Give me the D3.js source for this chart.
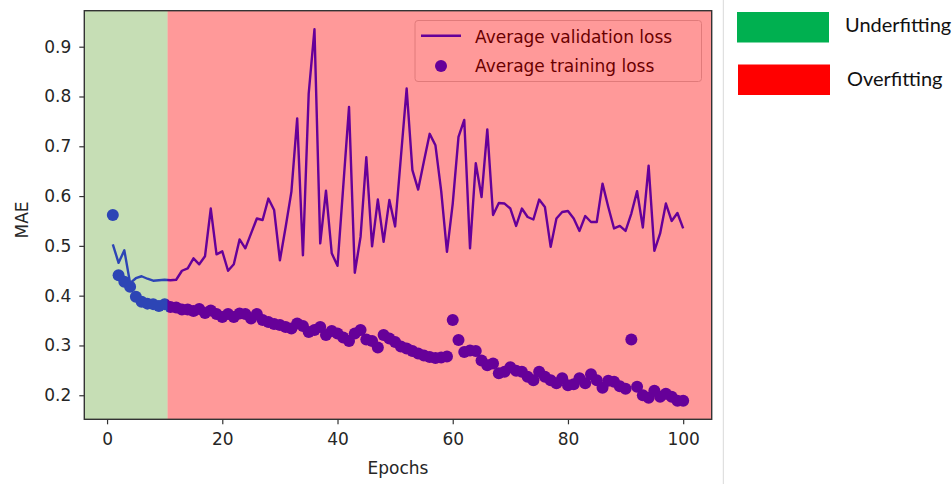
<!DOCTYPE html>
<head>
    <title>MAE per epoch</title>
    <script src="https://cdnjs.cloudflare.com/ajax/libs/d3/7.8.5/d3.min.js"></script>
</head>
<style>
body {
  margin: 0;
  background: #fff;
  font-family: "DejaVu Sans", sans-serif;
}
</style>
<body>
    <svg id="chart"></svg>
</body>

<script>

    // Data
    var valLoss = [
        0.503, 0.466, 0.491, 0.425, 0.435, 0.439, 0.434, 0.430, 0.431, 0.432,
        0.431, 0.432, 0.450, 0.455, 0.475, 0.463, 0.479, 0.575, 0.483, 0.489,
        0.450, 0.463, 0.513, 0.495, 0.525, 0.555, 0.552, 0.595, 0.572, 0.471,
        0.538, 0.609, 0.756, 0.481, 0.806, 0.935, 0.505, 0.611, 0.485, 0.460,
        0.620, 0.779, 0.446, 0.518, 0.678, 0.499, 0.593, 0.508, 0.592, 0.539,
        0.678, 0.816, 0.652, 0.613, 0.670, 0.725, 0.702, 0.610, 0.488, 0.585,
        0.719, 0.753, 0.495, 0.666, 0.598, 0.734, 0.562, 0.586, 0.585, 0.575,
        0.540, 0.575, 0.558, 0.553, 0.593, 0.578, 0.498, 0.555, 0.568, 0.570,
        0.555, 0.530, 0.560, 0.548, 0.548, 0.625, 0.578, 0.535, 0.540, 0.530,
        0.565, 0.610, 0.537, 0.661, 0.490, 0.525, 0.585, 0.550, 0.566, 0.535
    ];
    var trainLoss = [
        0.562, 0.441, 0.428, 0.418, 0.398, 0.388, 0.384, 0.383, 0.379, 0.383,
        0.377, 0.376, 0.372, 0.372, 0.369, 0.373, 0.365, 0.370, 0.363, 0.357,
        0.363, 0.357, 0.364, 0.363, 0.354, 0.363, 0.351, 0.347, 0.343, 0.341,
        0.337, 0.334, 0.344, 0.339, 0.327, 0.331, 0.337, 0.321, 0.329, 0.324,
        0.316, 0.309, 0.324, 0.331, 0.312, 0.309, 0.296, 0.321, 0.314, 0.307,
        0.298, 0.294, 0.289, 0.284, 0.280, 0.277, 0.275, 0.276, 0.278, 0.351,
        0.311, 0.287, 0.290, 0.289, 0.270, 0.260, 0.264, 0.244, 0.247, 0.256,
        0.249, 0.247, 0.237, 0.230, 0.247, 0.237, 0.230, 0.224, 0.234, 0.220,
        0.222, 0.234, 0.224, 0.242, 0.230, 0.215, 0.229, 0.227, 0.218, 0.213,
        0.312, 0.217, 0.200, 0.195, 0.209, 0.197, 0.203, 0.197, 0.189, 0.189
    ];
    var xTicks = [0, 20, 40, 60, 80, 100];
    var yTicks = [0.2, 0.3, 0.4, 0.5, 0.6, 0.7, 0.8, 0.9];
    var underfitEnd = 10.5;   // epoch where the green band stops
    var legendItems = ["Average validation loss", "Average training loss"];
    var zoneNames = ["Underfitting", "Overfitting"];
    var zoneColors = ["#00b050", "#ff0000"];

    var width = 952;
    var height = 484;
    var plot = {left: 84.3, right: 711.7, top: 10.7, bottom: 419.3};

    var svg = d3.select('#chart')
        .attr('width', width)
        .attr('height', height);

    // one point per epoch, epochs start at 1
    var points = valLoss.map(function (v, i) {
        return {epoch: i + 1, val: v, train: trainLoss[i]};
    });

    // matplotlib style 5% margins
    var xExt = d3.extent(points, function (d) { return d.epoch; });
    var xPad = (xExt[1] - xExt[0]) * 0.05;
    var allY = valLoss.concat(trainLoss);
    var yExt = d3.extent(allY);
    var yPad = (yExt[1] - yExt[0]) * 0.05;

    var x = d3.scaleLinear()
        .domain([xExt[0] - xPad, xExt[1] + xPad])
        .range([plot.left, plot.right]);
    var y = d3.scaleLinear()
        .domain([yExt[0] - yPad, yExt[1] + yPad])
        .range([plot.bottom, plot.top]);

    var g = svg.append('g');

    g.append('rect')
        .attr('x', plot.left).attr('y', plot.top)
        .attr('width', plot.right - plot.left)
        .attr('height', plot.bottom - plot.top)
        .attr('fill', '#fff');

    var line = d3.line()
        .x(function (d) { return x(d.epoch); })
        .y(function (d) { return y(d.val); });

    g.append('path')
        .datum(points)
        .attr('d', line)
        .attr('fill', 'none')
        .attr('stroke', '#0000ff')
        .attr('stroke-width', 2.4)
        .attr('stroke-linejoin', 'round');

    g.selectAll('.dot')
        .data(points)
        .enter().append('circle')
        .attr('class', 'dot')
        .attr('cx', function (d) { return x(d.epoch); })
        .attr('cy', function (d) { return y(d.train); })
        .attr('r', 6)
        .attr('fill', '#0000ff');

    // legend box (gets tinted by the red band like everything else)
    var lg = g.append('g').attr('transform', 'translate(415,20.5)');
    lg.append('rect')
        .attr('width', 286.5).attr('height', 61)
        .attr('rx', 3)
        .attr('fill', '#fff').attr('fill-opacity', 0.8)
        .attr('stroke', '#cccccc').attr('stroke-width', 1);
    lg.append('line')
        .attr('x1', 6).attr('x2', 46).attr('y1', 15.3).attr('y2', 15.3)
        .attr('stroke', '#0000ff').attr('stroke-width', 2.4);
    lg.append('circle')
        .attr('cx', 26).attr('cy', 45.5).attr('r', 6)
        .attr('fill', '#0000ff');
    lg.selectAll('text')
        .data(legendItems)
        .enter().append('text')
        .attr('x', 60)
        .attr('y', function (d, i) { return 22.5 + i * 28.5; })
        .attr('font-size', 17)
        .attr('fill', '#000')
        .text(function (d) { return d; });

    // shaded zones drawn on top, semi transparent
    g.append('rect')
        .attr('x', plot.left).attr('y', plot.top)
        .attr('width', x(underfitEnd) - plot.left)
        .attr('height', plot.bottom - plot.top)
        .attr('fill', 'rgb(112,173,71)').attr('fill-opacity', 0.4);
    g.append('rect')
        .attr('x', x(underfitEnd)).attr('y', plot.top)
        .attr('width', plot.right - x(underfitEnd))
        .attr('height', plot.bottom - plot.top)
        .attr('fill', '#ff0000').attr('fill-opacity', 0.4);

    // frame
    g.append('rect')
        .attr('x', plot.left).attr('y', plot.top)
        .attr('width', plot.right - plot.left)
        .attr('height', plot.bottom - plot.top)
        .attr('fill', 'none')
        .attr('stroke', '#333').attr('stroke-width', 1.4);

    // axes
    var xAxis = svg.append('g')
        .attr('transform', 'translate(0,' + plot.bottom + ')')
        .call(d3.axisBottom(x).tickValues(xTicks).tickSize(5).tickPadding(9).tickSizeOuter(0));
    var yAxis = svg.append('g')
        .attr('transform', 'translate(' + plot.left + ',0)')
        .call(d3.axisLeft(y).tickValues(yTicks).tickFormat(d3.format('.1f')).tickSize(5).tickPadding(8).tickSizeOuter(0));

    [xAxis, yAxis].forEach(function (ax) {
        ax.select('.domain').remove();
        ax.selectAll('line').attr('stroke', '#333').attr('stroke-width', 1.2);
        ax.selectAll('text')
            .attr('font-family', '"DejaVu Sans", sans-serif')
            .attr('font-size', 17)
            .attr('fill', '#262626');
    });

    svg.append('text')
        .attr('x', (plot.left + plot.right) / 2)
        .attr('y', 474)
        .attr('text-anchor', 'middle')
        .attr('font-size', 17)
        .attr('fill', '#262626')
        .text('Epochs');

    svg.append('text')
        .attr('transform', 'translate(28,220)rotate(-90)')
        .attr('text-anchor', 'middle')
        .attr('font-size', 17)
        .attr('fill', '#262626')
        .text('MAE');

    // side key
    svg.append('line')
        .attr('x1', 723.3).attr('x2', 723.3)
        .attr('y1', 0).attr('y2', height)
        .attr('stroke', '#d9d9d9').attr('stroke-width', 1);

    var key = svg.selectAll('.key')
        .data(zoneNames)
        .enter().append('g')
        .attr('class', 'key')
        .attr('transform', function (d, i) { return 'translate(737,' + (12 + i * 52.5) + ')'; });
    key.append('rect')
        .attr('x', function (d, i) { return i; })
        .attr('width', 92).attr('height', 30.5)
        .attr('fill', function (d, i) { return zoneColors[i]; });
    key.append('text')
        .attr('x', function (d, i) { return 108 + i * 2; })
        .attr('y', function (d, i) { return 20 + i * 1.5; })
        .attr('font-family', 'Lato, "Open Sans", sans-serif')
        .attr('font-size', 20)
        .attr('fill', '#111')
        .text(function (d) { return d; });

</script>
